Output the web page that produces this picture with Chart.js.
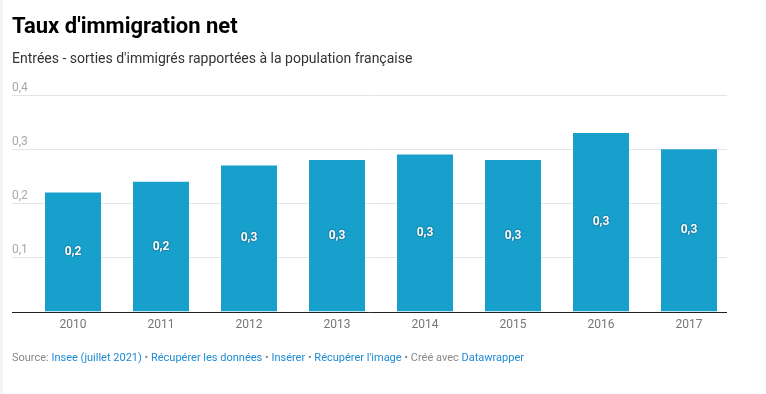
<!DOCTYPE html>
<html lang="fr">
<head>
    <meta charset="UTF-8">
    <title>Taux d'immigration net</title>
    <script src="https://cdn.jsdelivr.net/npm/chart.js"></script>
    <style>
        html, body {
            margin: 0;
            padding: 0;
            background: #fff;
        }
        body {
            width: 766px;
            height: 394px;
            position: relative;
            overflow: hidden;
            font-family: Roboto, Arial, sans-serif;
        }
        #left-edge {
            position: absolute;
            left: 0; top: 0;
            width: 3px; height: 394px;
            background: #f4f4f4;
        }
        #chart-box {
            position: absolute;
            left: 0; top: 0;
            width: 766px; height: 394px;
        }
        h1 {
            position: absolute;
            left: 12px; top: 12px;
            margin: 0;
            font-size: 22px;
            line-height: 28px;
            font-weight: 700;
            color: #000;
        }
        .subtitle {
            position: absolute;
            left: 12px; top: 48px;
            margin: 0;
            font-size: 14px;
            line-height: 20px;
            color: #333;
        }
        .footer {
            position: absolute;
            left: 12px; top: 350px;
            font-size: 11px;
            line-height: 16px;
            color: #888;
        }
        .footer a {
            color: #1d8ad4;
            text-decoration: none;
        }
    </style>
</head>
<body>
    <div id="left-edge"></div>
    <div id="chart-box">
        <canvas id="chart" width="766" height="394"></canvas>
    </div>
    <h1>Taux d'immigration net</h1>
    <p class="subtitle">Entrées - sorties d'immigrés rapportées à la population française</p>
    <div class="footer">Source: <a>Insee (juillet 2021)</a> • <a>Récupérer les données</a> • <a>Insérer</a> • <a>Récupérer l'image</a> • Créé avec <a>Datawrapper</a></div>

    <script>
        // données
        const years = ['2010', '2011', '2012', '2013', '2014', '2015', '2016', '2017'];
        const rates = [0.22, 0.24, 0.27, 0.28, 0.29, 0.28, 0.33, 0.30];
        const yTicks = [0.1, 0.2, 0.3, 0.4];

        const fmt = v => v.toFixed(1).replace('.', ',');

        // grille + étiquettes de l'axe Y façon Datawrapper (au-dessus des lignes)
        const gridPlugin = {
            id: 'dwGrid',
            beforeDatasetsDraw(chart) {
                const ctx = chart.ctx;
                const y = chart.scales.y;
                ctx.save();
                ctx.strokeStyle = '#e5e5e5';
                ctx.lineWidth = 1;
                ctx.font = '12px Roboto';
                ctx.fillStyle = '#a8a8a8';
                ctx.textAlign = 'left';
                ctx.textBaseline = 'alphabetic';
                yTicks.forEach(t => {
                    const py = Math.round(y.getPixelForValue(t)) + 0.5;
                    ctx.beginPath();
                    ctx.moveTo(12, py);
                    ctx.lineTo(727, py);
                    ctx.stroke();
                    ctx.fillText(fmt(t), 12, py - 5);
                });
                ctx.restore();
            },
            afterDatasetsDraw(chart) {
                const ctx = chart.ctx;
                const y = chart.scales.y;
                ctx.save();
                // ligne de base
                const py = Math.round(y.getPixelForValue(0)) + 0.5;
                ctx.strokeStyle = '#222';
                ctx.lineWidth = 1;
                ctx.beginPath();
                ctx.moveTo(12, py);
                ctx.lineTo(727, py);
                ctx.stroke();

                // valeurs au milieu des barres
                ctx.font = 'bold 12px Roboto';
                ctx.textAlign = 'center';
                ctx.textBaseline = 'middle';
                chart.getDatasetMeta(0).data.forEach((bar, i) => {
                    const cy = (bar.y + bar.base) / 2;
                    ctx.shadowColor = 'rgba(0,0,0,0.55)';
                    ctx.shadowBlur = 2;
                    ctx.fillStyle = '#fff';
                    ctx.fillText(fmt(rates[i]), bar.x, cy);
                });
                ctx.restore();
            }
        };

        const ctx = document.getElementById('chart').getContext('2d');
        new Chart(ctx, {
            type: 'bar',
            data: {
                labels: years,
                datasets: [{
                    data: rates,
                    backgroundColor: '#18a0cc',
                    borderWidth: 0,
                    categoryPercentage: 1,
                    barPercentage: 0.636
                }]
            },
            options: {
                responsive: false,
                animation: false,
                layout: {
                    padding: { left: 29, right: 33, top: 95, bottom: 56 }
                },
                plugins: {
                    legend: { display: false },
                    tooltip: { enabled: false }
                },
                scales: {
                    x: {
                        grid: { display: false, drawTicks: false },
                        border: { display: false },
                        ticks: {
                            color: '#777',
                            padding: 6,
                            font: { family: 'Roboto', size: 12 }
                        }
                    },
                    y: {
                        display: false,
                        min: 0,
                        max: 0.4
                    }
                }
            },
            plugins: [gridPlugin]
        });
    </script>
</body>
</html>
